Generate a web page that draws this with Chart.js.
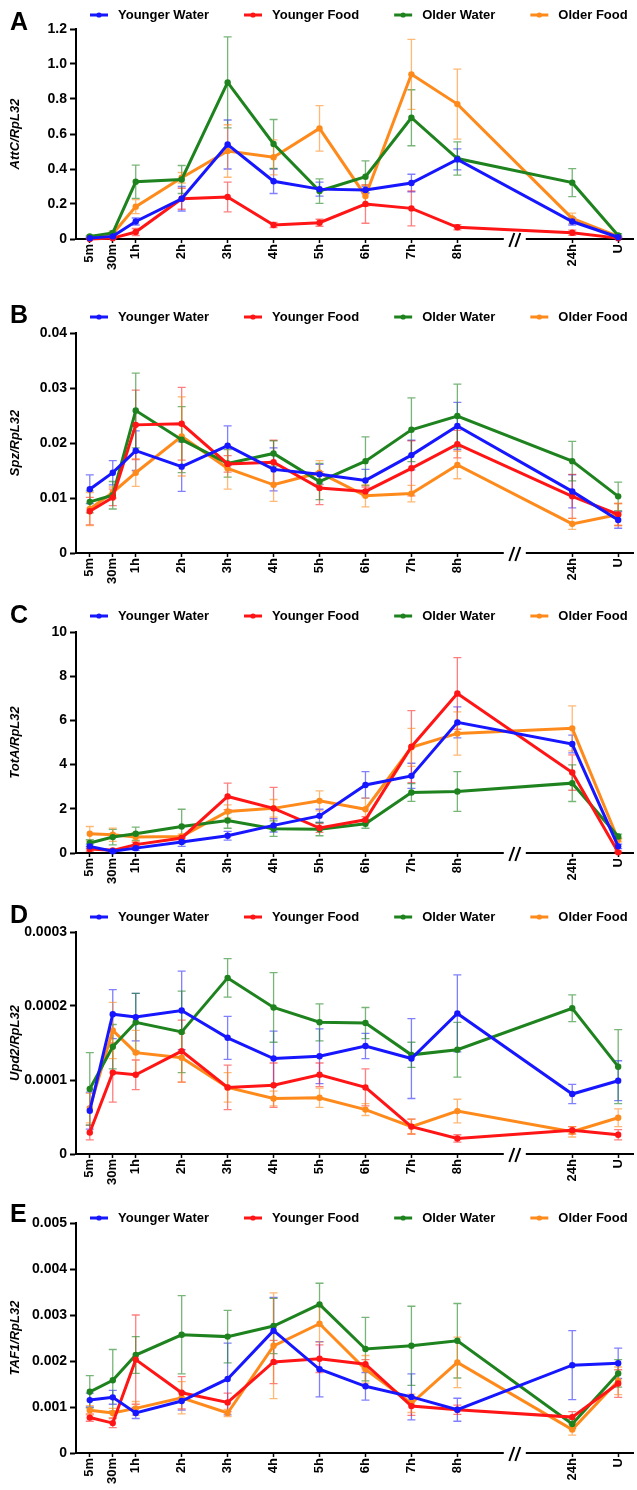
<!DOCTYPE html>
<html><head><meta charset="utf-8">
<script src="https://cdn.jsdelivr.net/npm/chart.js@4.4.1/dist/chart.umd.min.js"></script>
<style>
html,body{margin:0;padding:0;background:#fff;}
body{width:637px;height:1490px;position:relative;overflow:hidden;}
.panel{position:absolute;left:0;width:637px;}
canvas{display:block;}
</style></head><body>
<div class="panel" style="top:0px;height:300px"><canvas id="cA" width="637" height="300"></canvas></div>
<div class="panel" style="top:300px;height:300px"><canvas id="cB" width="637" height="300"></canvas></div>
<div class="panel" style="top:600px;height:300px"><canvas id="cC" width="637" height="300"></canvas></div>
<div class="panel" style="top:900px;height:300px"><canvas id="cD" width="637" height="300"></canvas></div>
<div class="panel" style="top:1200px;height:290px"><canvas id="cE" width="637" height="290"></canvas></div>
<script>
// ---------- categories ----------
const timeLabels = ['5m','30m','1h','2h','3h','4h','5h','6h','7h','8h','24h','U'];
const timePos    = [0, 0.5, 1, 2, 3, 4, 5, 6, 7, 8, 10.5, 11.5];
const axisBreakAt = 9.25;
const seriesNames = ['Younger Water','Younger Food','Older Water','Older Food'];

// ---------- A: AttC/RpL32 ----------
const attcTicks = [0, 0.2, 0.4, 0.6, 0.8, 1.0, 1.2];
const attcYW  = [0.005, 0.015, 0.10, 0.23, 0.54, 0.33, 0.285, 0.28, 0.32, 0.455, 0.10, 0.01];
const attcYWe = [0.005, 0.01, 0.02, 0.07, 0.14, 0.07, 0.04, 0.02, 0.05, 0.06, 0.02, 0.005];
const attcYF  = [0.0, 0.005, 0.04, 0.23, 0.24, 0.08, 0.093, 0.2, 0.175, 0.067, 0.036, 0.005];
const attcYFe = [0.003, 0.005, 0.02, 0.06, 0.085, 0.015, 0.02, 0.11, 0.1, 0.015, 0.015, 0.003];
const attcOW  = [0.015, 0.035, 0.327, 0.34, 0.895, 0.543, 0.274, 0.356, 0.693, 0.46, 0.322, 0.02];
const attcOWe = [0.005, 0.01, 0.095, 0.08, 0.26, 0.14, 0.07, 0.09, 0.16, 0.095, 0.08, 0.01];
const attcOF  = [0.01, 0.03, 0.185, 0.35, 0.503, 0.467, 0.632, 0.246, 0.941, 0.771, 0.118, 0.015];
const attcOFe = [0.005, 0.01, 0.04, 0.03, 0.15, 0.1, 0.13, 0.06, 0.2, 0.2, 0.03, 0.005];

// ---------- B: Spz/RpL32 ----------
const spzTicks = [0, 0.01, 0.02, 0.03, 0.04];
const spzYW  = [0.0116,0.0146,0.0186,0.0157,0.0195,0.0152,0.0143,0.0132,0.0178,0.0231,0.0112,0.0060];
const spzYWe = [0.0026,0.0022,0.0036,0.0045,0.0036,0.0039,0.0018,0.0020,0.0027,0.0043,0.0030,0.0015];
const spzYF  = [0.0076,0.0101,0.0233,0.0235,0.0162,0.0165,0.0118,0.0112,0.0154,0.0198,0.0103,0.0070];
const spzYFe = [0.0025,0.0015,0.0063,0.0066,0.0015,0.0040,0.0030,0.0008,0.0050,0.0025,0.0040,0.0020];
const spzOW  = [0.0093,0.0105,0.0259,0.0206,0.0163,0.0181,0.0130,0.0167,0.0224,0.0249,0.0167,0.0103];
const spzOWe = [0.0020,0.0025,0.0068,0.0060,0.0025,0.0023,0.0033,0.0044,0.0058,0.0058,0.0036,0.0026];
const spzOF  = [0.0080,0.0110,0.0146,0.0212,0.0154,0.0124,0.0146,0.0104,0.0108,0.0160,0.0053,0.0070];
const spzOFe = [0.0030,0.0010,0.0025,0.0072,0.0038,0.0030,0.0022,0.0020,0.0015,0.0025,0.0010,0.0020];

// ---------- C: TotA/RpL32 ----------
const totaTicks = [0, 2, 4, 6, 8, 10];
const totaYW  = [0.30,0.08,0.22,0.50,0.78,1.25,1.68,3.08,3.49,5.91,4.93,0.30];
const totaYWe = [0.10,0.05,0.10,0.20,0.20,0.30,0.30,0.60,0.57,0.70,0.40,0.10];
const totaYF  = [0.18,0.12,0.38,0.68,2.56,2.02,1.13,1.50,4.81,7.22,3.64,0.03];
const totaYFe = [0.10,0.05,0.10,0.10,0.60,0.95,0.20,0.15,1.63,1.62,0.80,0.05];
const totaOW  = [0.45,0.72,0.87,1.20,1.47,1.10,1.08,1.32,2.74,2.78,3.16,0.75];
const totaOWe = [0.15,0.35,0.30,0.78,0.35,0.35,0.30,0.20,0.40,0.90,0.83,0.10];
const totaOF  = [0.87,0.83,0.72,0.75,1.88,2.02,2.36,1.98,4.78,5.41,5.64,0.60];
const totaOFe = [0.33,0.30,0.20,0.10,0.30,0.40,0.45,0.50,0.86,0.98,1.02,0.10];

// ---------- D: Upd2/RpL32 ----------
const upd2Ticks = [0, 0.0001, 0.0002, 0.0003];
const upd2YW  = [5.85e-5,1.89e-4,1.85e-4,1.94e-4,1.57e-4,1.29e-4,1.32e-4,1.46e-4,1.29e-4,1.90e-4,8.1e-5,9.9e-5];
const upd2YWe = [2.5e-5,3.3e-5,3.2e-5,5.3e-5,2.9e-5,3.7e-5,3.7e-5,1.7e-5,5.4e-5,5.2e-5,1.3e-5,2.7e-5];
const upd2YF  = [2.9e-5,1.10e-4,1.07e-4,1.39e-4,9.0e-5,9.3e-5,1.07e-4,9.0e-5,3.7e-5,2.1e-5,3.2e-5,2.6e-5];
const upd2YFe = [1.0e-5,4.0e-5,2.0e-5,4.2e-5,3.0e-5,3.0e-5,1.6e-5,2.5e-5,1.0e-5,0.5e-5,0.5e-5,0.7e-5];
const upd2OW  = [8.8e-5,1.45e-4,1.78e-4,1.65e-4,2.38e-4,1.98e-4,1.78e-4,1.77e-4,1.34e-4,1.41e-4,1.97e-4,1.18e-4];
const upd2OWe = [4.9e-5,3.0e-5,3.9e-5,5.5e-5,2.6e-5,4.7e-5,2.5e-5,2.1e-5,1.7e-5,3.7e-5,1.8e-5,5.0e-5];
const upd2OF  = [6.2e-5,1.67e-4,1.37e-4,1.30e-4,9.0e-5,7.5e-5,7.6e-5,6.0e-5,3.7e-5,5.8e-5,3.0e-5,4.9e-5];
const upd2OFe = [2.0e-5,3.8e-5,3.0e-5,3.3e-5,2.0e-5,1.0e-5,1.3e-5,0.8e-5,1.0e-5,1.6e-5,0.7e-5,1.2e-5];

// ---------- E: TAF1/RpL32 ----------
const taf1Ticks = [0, 0.001, 0.002, 0.003, 0.004, 0.005];
const taf1YW  = [1.15e-3,1.21e-3,0.87e-3,1.13e-3,1.61e-3,2.66e-3,1.82e-3,1.45e-3,1.22e-3,0.94e-3,1.91e-3,1.95e-3];
const taf1YWe = [0.15e-3,0.15e-3,0.12e-3,0.20e-3,0.78e-3,0.72e-3,0.60e-3,0.30e-3,0.50e-3,0.25e-3,0.75e-3,0.33e-3];
const taf1YF  = [0.77e-3,0.65e-3,2.03e-3,1.31e-3,1.10e-3,1.98e-3,2.05e-3,1.93e-3,1.02e-3,0.94e-3,0.78e-3,1.51e-3];
const taf1YFe = [0.08e-3,0.10e-3,0.97e-3,0.35e-3,0.20e-3,0.47e-3,0.30e-3,0.10e-3,0.20e-3,0.10e-3,0.12e-3,0.30e-3];
const taf1OW  = [1.33e-3,1.58e-3,2.13e-3,2.57e-3,2.53e-3,2.76e-3,3.23e-3,2.26e-3,2.33e-3,2.44e-3,0.63e-3,1.73e-3];
const taf1OWe = [0.35e-3,0.67e-3,0.40e-3,0.85e-3,0.57e-3,0.60e-3,0.46e-3,0.69e-3,0.86e-3,0.81e-3,0.10e-3,0.30e-3];
const taf1OF  = [0.93e-3,0.87e-3,0.97e-3,1.20e-3,0.87e-3,2.33e-3,2.81e-3,1.82e-3,1.08e-3,1.97e-3,0.51e-3,1.57e-3];
const taf1OFe = [0.10e-3,0.10e-3,0.15e-3,0.35e-3,0.08e-3,1.15e-3,0.40e-3,0.30e-3,0.20e-3,0.55e-3,0.12e-3,0.30e-3];

// ---------- styling ----------
const COLORS = ['#1616ff', '#ff1515', '#1e831e', '#ff8a1c'];
const ERR_COLORS = ['rgba(22,22,255,0.55)', 'rgba(255,21,21,0.55)', 'rgba(30,131,30,0.6)', 'rgba(255,138,28,0.6)'];
const FONT = '"Liberation Sans", Arial, Helvetica, sans-serif';

const errorBarPlugin = {
  id: 'errorBars',
  beforeDatasetsDraw(chart) {
    const ctx = chart.ctx, ys = chart.scales.y, xs = chart.scales.x;
    ctx.save();
    chart.data.datasets.forEach((ds, k) => {
      ctx.strokeStyle = ERR_COLORS[k];
      ctx.lineWidth = 1.3;
      ds.data.forEach((p, i) => {
        const e = ds.errors[i];
        if (!e) return;
        const x = xs.getPixelForValue(p.x);
        const yt = ys.getPixelForValue(p.y + e);
        const yb = ys.getPixelForValue(Math.max(p.y - e, 0));
        ctx.beginPath();
        ctx.moveTo(x, yt); ctx.lineTo(x, yb);
        ctx.moveTo(x - 4, yt); ctx.lineTo(x + 4, yt);
        ctx.moveTo(x - 4, yb); ctx.lineTo(x + 4, yb);
        ctx.stroke();
      });
    });
    ctx.restore();
  }
};

const decoPlugin = {
  id: 'panelDeco',
  afterDraw(chart, args, opts) {
    const ctx = chart.ctx;
    ctx.save();
    // panel letter
    ctx.fillStyle = '#000';
    ctx.font = 'bold 25px ' + FONT;
    ctx.textBaseline = 'alphabetic';
    ctx.textAlign = 'left';
    ctx.fillText(opts.letter, 10, opts.letterY);
    // legend
    ctx.font = 'bold 13px ' + FONT;
    ctx.textBaseline = 'middle';
    let x = 90;
    const y = opts.legendY;
    chart.data.datasets.forEach((ds, k) => {
      ctx.strokeStyle = COLORS[k];
      ctx.fillStyle = COLORS[k];
      ctx.lineWidth = 3;
      ctx.beginPath(); ctx.moveTo(x, y); ctx.lineTo(x + 18, y); ctx.stroke();
      ctx.beginPath(); ctx.arc(x + 9, y, 2.6, 0, Math.PI * 2); ctx.fill();
      ctx.fillStyle = '#000';
      ctx.fillText(ds.label, x + 28, y + 0.5);
      x += 28 + ctx.measureText(ds.label).width + 35;
    });
    // axis break
    const xs = chart.scales.x;
    const bx = xs.getPixelForValue(axisBreakAt);
    const by = chart.chartArea.bottom + 1;
    ctx.fillStyle = '#fff';
    ctx.fillRect(bx - 11, by - 2.5, 22, 5);
    ctx.strokeStyle = '#000';
    ctx.lineWidth = 2;
    [-3, 3].forEach(d => {
      ctx.beginPath();
      ctx.moveTo(bx + d - 2.5, by + 7);
      ctx.lineTo(bx + d + 2.5, by - 7);
      ctx.stroke();
    });
    ctx.restore();
  }
};

function build(id, o) {
  const datasets = o.series.map((s, k) => ({
    label: seriesNames[k],
    data: s[0].map((v, i) => ({ x: timePos[i], y: v })),
    errors: s[1],
    borderColor: COLORS[k],
    backgroundColor: COLORS[k],
    borderWidth: 3,
    pointRadius: 3.2,
    pointBorderWidth: 0,
    pointHoverRadius: 3.2,
    tension: 0,
    fill: false,
    clip: false
  }));
  const maxY = o.yTicks[o.yTicks.length - 1];
  return new Chart(document.getElementById(id), {
    type: 'line',
    data: { datasets },
    options: {
      responsive: false,
      animation: false,
      events: [],
      layout: { padding: { top: o.areaTop, right: 1, left: 0, bottom: 0 } },
      plugins: {
        legend: { display: false },
        tooltip: { enabled: false },
        panelDeco: { letter: o.letter, legendY: o.legendY, letterY: o.letterY }
      },
      scales: {
        x: {
          type: 'linear', min: -0.3, max: 11.84,
          afterBuildTicks: sc => { sc.ticks = timePos.map(v => ({ value: v })); },
          afterFit: sc => { sc.height = o.xAxisH; },
          ticks: {
            autoSkip: false, minRotation: 90, maxRotation: 90, padding: 1, color: '#000',
            font: { family: FONT, size: 13, weight: 'bold' },
            callback: (v, i) => timeLabels[i]
          },
          grid: { display: true, drawOnChartArea: false, drawTicks: true, tickLength: 4, tickWidth: 1.5, tickColor: '#000' },
          border: { display: true, color: '#000', width: 2 }
        },
        y: {
          min: 0, max: maxY,
          afterBuildTicks: sc => { sc.ticks = o.yTicks.map(v => ({ value: v })); },
          afterFit: sc => { sc.width = 76; },
          ticks: {
            padding: 3, color: '#000',
            font: { family: FONT, size: 14, weight: 'bold' },
            callback: v => v === 0 ? '0' : Number(v).toFixed(o.decimals)
          },
          grid: { display: true, drawOnChartArea: false, tickLength: 6, tickWidth: 2, tickColor: '#000' },
          border: { display: true, color: '#000', width: 2 },
          title: {
            display: true, text: o.yTitle, color: '#000',
            font: { family: FONT, size: 13, weight: 'bold', style: 'italic' },
            padding: { top: 8, bottom: 0 }
          }
        }
      }
    },
    plugins: [errorBarPlugin, decoPlugin]
  });
}

build('cA', { letter: 'A', letterY: 30, legendY: 15, areaTop: 29, xAxisH: 61, yTitle: 'AttC/RpL32', yTicks: attcTicks, decimals: 1,
  series: [[attcYW, attcYWe], [attcYF, attcYFe], [attcOW, attcOWe], [attcOF, attcOFe]] });
build('cB', { letter: 'B', letterY: 23, legendY: 17, areaTop: 33, xAxisH: 47, yTitle: 'Spz/RpL32', yTicks: spzTicks, decimals: 2,
  series: [[spzYW, spzYWe], [spzYF, spzYFe], [spzOW, spzOWe], [spzOF, spzOFe]] });
build('cC', { letter: 'C', letterY: 23, legendY: 16, areaTop: 32, xAxisH: 47, yTitle: 'TotA/RpL32', yTicks: totaTicks, decimals: 0,
  series: [[totaYW, totaYWe], [totaYF, totaYFe], [totaOW, totaOWe], [totaOF, totaOFe]] });
build('cD', { letter: 'D', letterY: 23, legendY: 17, areaTop: 32, xAxisH: 46, yTitle: 'Upd2/RpL32', yTicks: upd2Ticks, decimals: 4,
  series: [[upd2YW, upd2YWe], [upd2YF, upd2YFe], [upd2OW, upd2OWe], [upd2OF, upd2OFe]] });
build('cE', { letter: 'E', letterY: 22, legendY: 18, areaTop: 23, xAxisH: 37, yTitle: 'TAF1/RpL32', yTicks: taf1Ticks, decimals: 3,
  series: [[taf1YW, taf1YWe], [taf1YF, taf1YFe], [taf1OW, taf1OWe], [taf1OF, taf1OFe]] });
</script>
</body></html>
